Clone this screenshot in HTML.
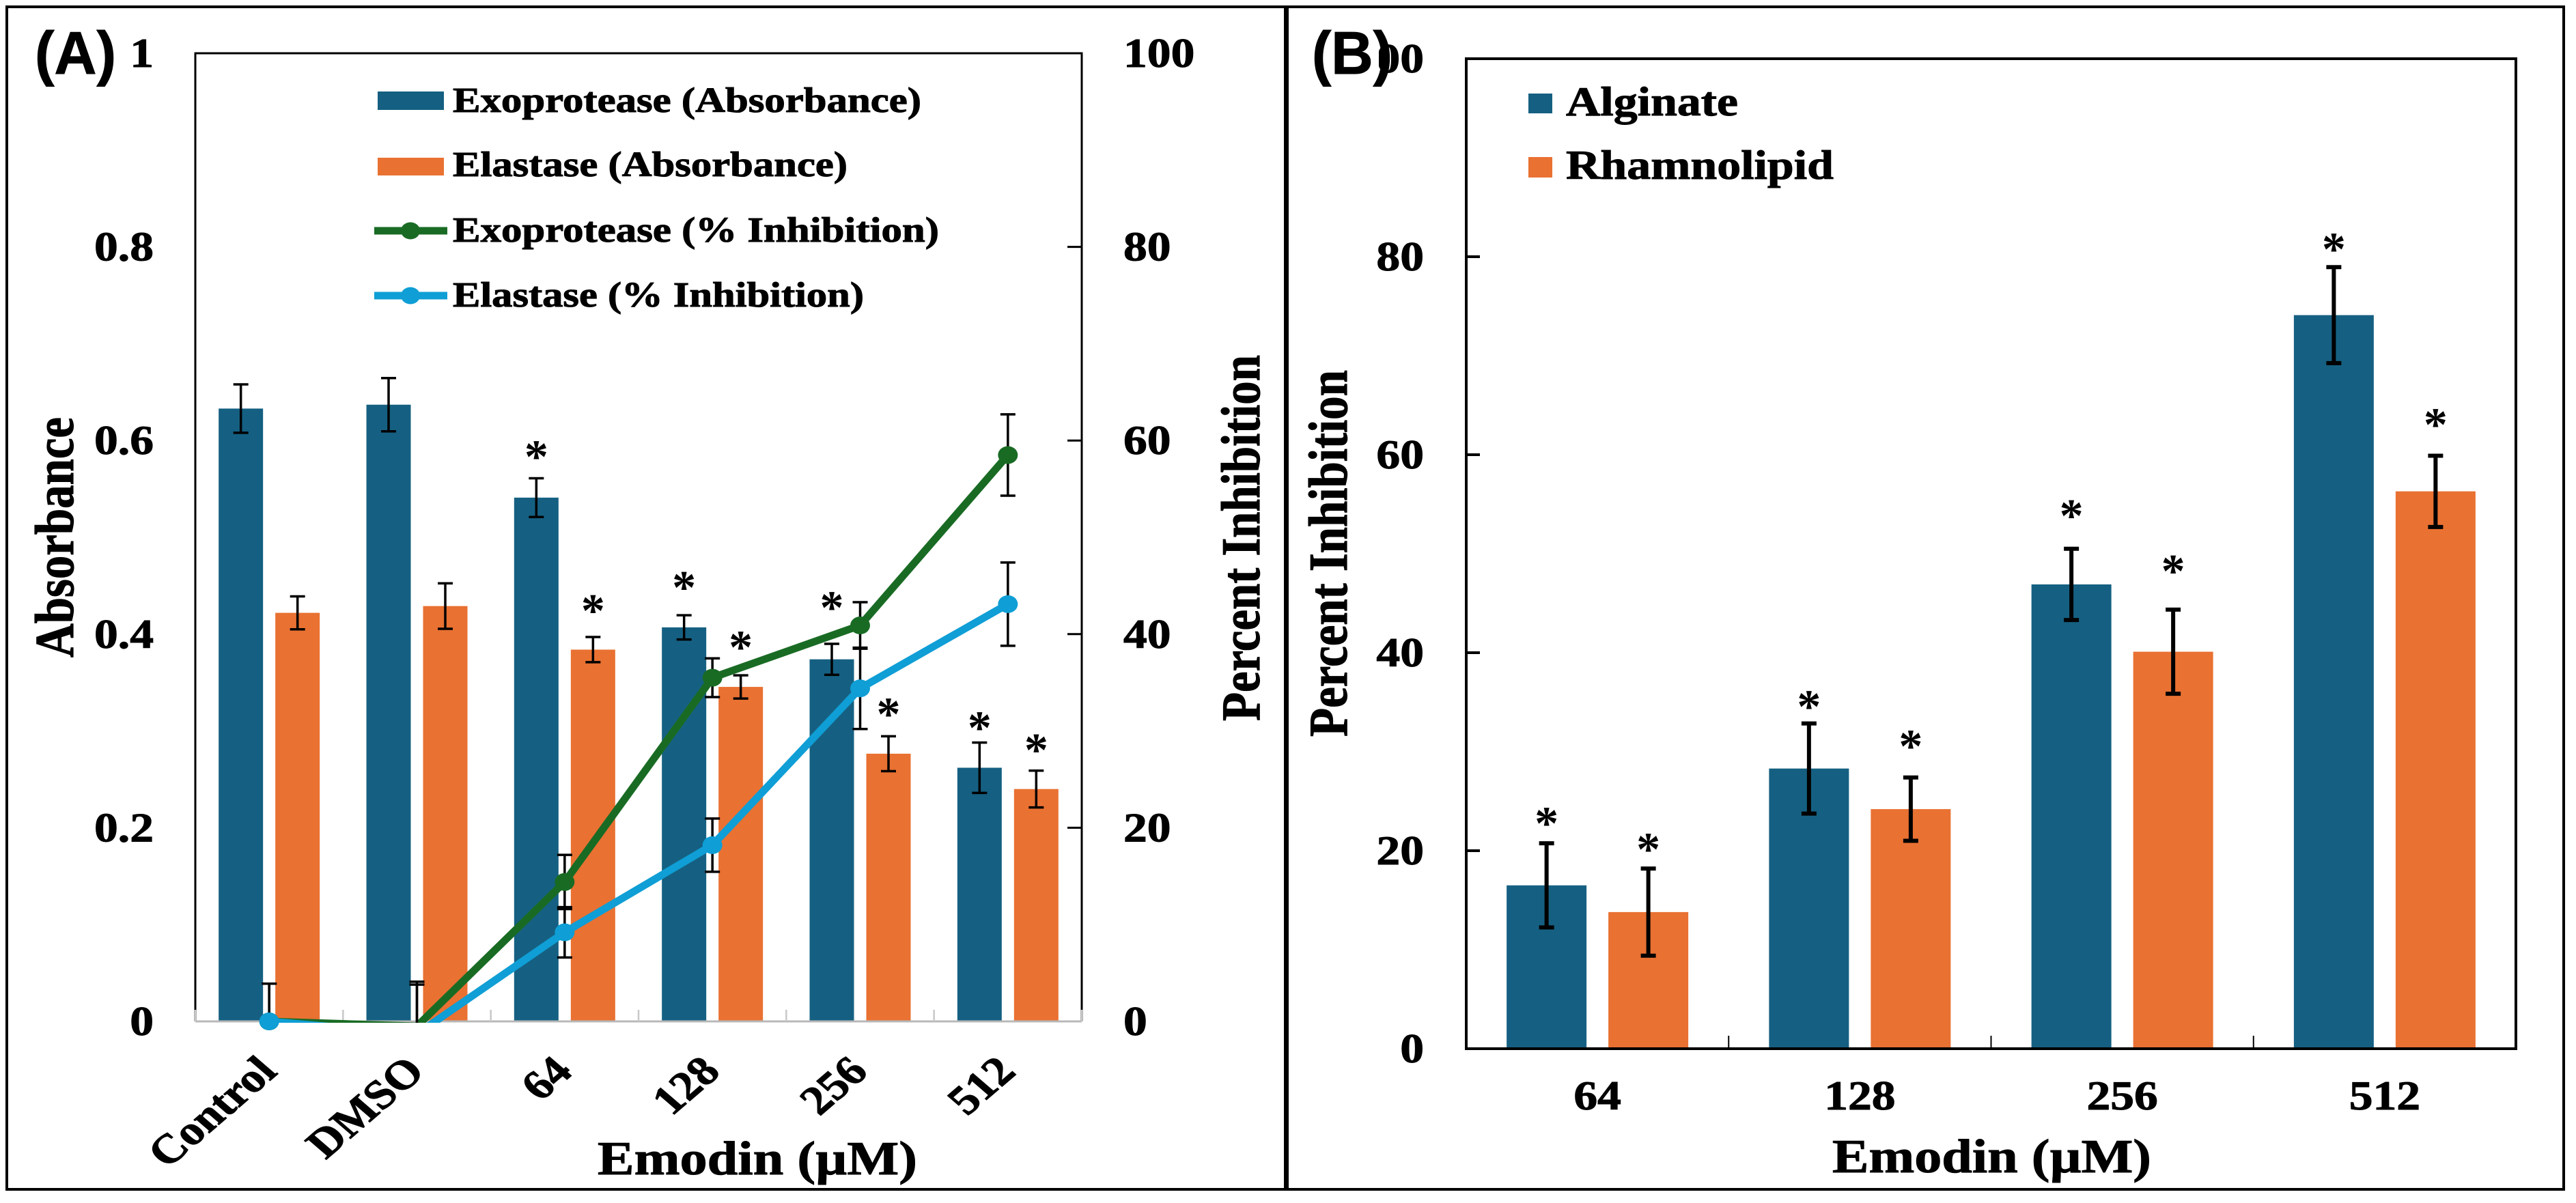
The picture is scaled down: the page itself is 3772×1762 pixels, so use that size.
<!DOCTYPE html>
<html>
<head>
<meta charset="utf-8">
<style>
html,body{margin:0;padding:0;background:#fff;}
svg{display:block;}
text{font-family:"Liberation Serif",serif;font-weight:bold;fill:#000;stroke:#000;stroke-width:1px;}
text.star{stroke:none;}
.panel-letter{font-family:"Liberation Sans",sans-serif;font-size:88px;}
</style>
</head>
<body>
<svg id="fig" xmlns="http://www.w3.org/2000/svg" width="3772" height="1762" viewBox="0 0 3772 1762">
  <defs>
    <clipPath id="clipA"><rect x="286" y="78" width="1298" height="1420"/></clipPath>
  </defs>
  <rect x="0" y="0" width="3772" height="1762" fill="#fff"/>
  <rect x="10" y="10" width="1873" height="1732" fill="none" stroke="#000" stroke-width="4"/>
  <rect x="1884" y="10" width="1870" height="1732" fill="none" stroke="#000" stroke-width="4"/>
  <rect x="1880" y="10" width="7" height="1732" fill="#000"/>

  <g id="chartA"></g>
  <g id="chartB"></g>

  <!-- Panel A static text -->
  <text class="panel-letter" x="51" y="108" textLength="119" lengthAdjust="spacingAndGlyphs">(A)</text>
  <text transform="translate(107,963) scale(1.16,1) rotate(-90)" font-size="69" textLength="352" lengthAdjust="spacingAndGlyphs">Absorbance</text>
  <text transform="translate(1844,1056) scale(1.16,1) rotate(-90)" font-size="69" textLength="536" lengthAdjust="spacingAndGlyphs">Percent Inhibition</text>
  <text x="875" y="1720" font-size="70" textLength="468" lengthAdjust="spacingAndGlyphs">Emodin (µM)</text>

  <rect x="553" y="134" width="97" height="27" fill="#156082"/>
  <text x="663" y="164" font-size="52" textLength="686" lengthAdjust="spacingAndGlyphs">Exoprotease (Absorbance)</text>
  <rect x="553" y="231" width="97" height="26" fill="#E97132"/>
  <text x="663" y="258" font-size="52" textLength="578" lengthAdjust="spacingAndGlyphs">Elastase (Absorbance)</text>
  <line x1="548" y1="338" x2="655" y2="338" stroke="#196B24" stroke-width="11"/>
  <ellipse cx="601" cy="338" rx="14" ry="12.5" fill="#196B24"/>
  <text x="663" y="354" font-size="52" textLength="712" lengthAdjust="spacingAndGlyphs">Exoprotease (% Inhibition)</text>
  <line x1="548" y1="433" x2="655" y2="433" stroke="#0F9ED5" stroke-width="11"/>
  <ellipse cx="601" cy="433" rx="14" ry="12.5" fill="#0F9ED5"/>
  <text x="663" y="449" font-size="52" textLength="602" lengthAdjust="spacingAndGlyphs">Elastase (% Inhibition)</text>

  <!-- Panel B static text -->
  <text transform="translate(1972,1079) scale(1.16,1) rotate(-90)" font-size="69" textLength="537" lengthAdjust="spacingAndGlyphs">Percent Inhibition</text>
  <text x="2683" y="1717" font-size="70" textLength="467" lengthAdjust="spacingAndGlyphs">Emodin (µM)</text>
  <rect x="2238" y="137" width="35" height="29" fill="#156082"/>
  <text x="2293" y="169" font-size="60" textLength="252" lengthAdjust="spacingAndGlyphs">Alginate</text>
  <rect x="2238" y="230" width="35" height="30" fill="#E97132"/>
  <text x="2293" y="262" font-size="60" textLength="392" lengthAdjust="spacingAndGlyphs">Rhamnolipid</text>
  <rect x="1925" y="40" width="94" height="90" fill="#fff"/>
  <text class="panel-letter" x="1921" y="108" textLength="118" lengthAdjust="spacingAndGlyphs">(B)</text>
</svg>

<script>
// ---- Panel A data ----
var categoriesA = ['Control', 'DMSO', '64', '128', '256', '512'];
var exoAbs = [0.633, 0.637, 0.541, 0.407, 0.374, 0.262];
var exoAbsErr = [0.025, 0.0275, 0.02, 0.0125, 0.016, 0.026];
var elaAbs = [0.422, 0.429, 0.384, 0.3455, 0.2765, 0.24];
var elaAbsErr = [0.017, 0.0235, 0.013, 0.012, 0.018, 0.019];
var exoInh = [0, -0.5, 14.4, 35.5, 40.9, 58.5];
var exoInhErr = [3.9, 4.3, 2.8, 2.0, 2.4, 4.2];
var elaInh = [0, -1.3, 9.2, 18.2, 34.4, 43.1];
var elaInhErr = [3.9, 5.4, 2.6, 2.75, 4.2, 4.3];
var exoStars = [null, null, 0.59, 0.455, 0.434, 0.31];
var elaStars = [null, null, 0.431, 0.393, 0.324, 0.287];
var leftTicksA = ['0', '0.2', '0.4', '0.6', '0.8', '1'];
var leftTickValsA = [0, 0.2, 0.4, 0.6, 0.8, 1];
var rightTickValsA = [0, 20, 40, 60, 80, 100];

// ---- Panel B data ----
var categoriesB = ['64', '128', '256', '512'];
var alginate = [16.5, 28.3, 46.9, 74.1];
var alginateErr = [4.25, 4.55, 3.6, 4.85];
var rhamno = [13.8, 24.2, 40.1, 56.3];
var rhamnoErr = [4.4, 3.2, 4.25, 3.6];
var alginateStars = [23.4, 35.2, 54.5, 81.4];
var rhamnoStars = [20.8, 31.2, 48.9, 63.7];
var tickValsB = [0, 20, 40, 60, 80, 100];

var NS = 'http://www.w3.org/2000/svg';
function mk(parent, tag, attrs, txt) {
  var e = document.createElementNS(NS, tag);
  for (var k in attrs) e.setAttribute(k, attrs[k]);
  if (txt !== undefined) e.textContent = txt;
  parent.appendChild(e);
  return e;
}
var STRETCH = 1.16;

// ---- Panel A axes ----
var A = {l: 286, r: 1584, t: 78, b: 1496};
function yAbs(v) { return A.b - (A.b - A.t) * v; }
function yPct(v) { return A.b - (A.b - A.t) * v / 100; }
var bandA = (A.r - A.l) / categoriesA.length;
function xCatA(i) { return A.l + bandA * (i + 0.5); }
var gA = document.getElementById('chartA');

var frameA = mk(gA, 'path', {d: 'M' + A.l + ' ' + A.b + 'V' + A.t + 'H' + A.r + 'V' + A.b, fill: 'none', stroke: '#000', 'stroke-width': 3});



function drawBarsA(vals, off, color, name) {
  vals.forEach(function (v, i) {
    var cx = xCatA(i) + off;
    var r = mk(gA, 'rect', {x: cx - 32.5, y: yAbs(v), width: 65, height: A.b - yAbs(v), fill: color});
    
    
  });
}
function drawBarErrA(vals, errs, stars, off, name) {
  vals.forEach(function (v, i) {
    var cx = xCatA(i) + off;
    var y1 = yAbs(v + errs[i]), y2 = yAbs(v - errs[i]);
    var p = mk(gA, 'path', {d: 'M' + (cx - 11) + ' ' + y1 + 'H' + (cx + 11) + 'M' + cx + ' ' + y1 + 'V' + y2 + 'M' + (cx - 11) + ' ' + y2 + 'H' + (cx + 11), stroke: '#000', 'stroke-width': 3.5, fill: 'none'});
    
    
    if (stars[i] !== null) {
      var s = mk(gA, 'text', {x: cx, y: yAbs(stars[i]) + 33, 'font-size': 70, 'text-anchor': 'middle', 'class': 'star'}, '*');
      
      
    }
  });
}
drawBarsA(exoAbs, -41.5, '#156082', 'exoprotease-absorbance');
drawBarsA(elaAbs, 41.5, '#E97132', 'elastase-absorbance');

var baseA = mk(gA, 'line', {x1: A.l, x2: A.r, y1: A.b, y2: A.b, stroke: '#b8b8b8', 'stroke-width': 3});


for (var ti = 0; ti <= categoriesA.length; ti++) {
  var tkA = mk(gA, 'line', {x1: A.l + bandA * ti, x2: A.l + bandA * ti, y1: A.b - 17, y2: A.b, stroke: '#c8c8c8', 'stroke-width': 2.5});
  
  
}
drawBarErrA(exoAbs, exoAbsErr, exoStars, -41.5, 'exoprotease-absorbance');
drawBarErrA(elaAbs, elaAbsErr, elaStars, 41.5, 'elastase-absorbance');

function drawLineA(vals, errs, color, name) {
  var g = mk(gA, 'g', {'clip-path': 'url(#clipA)'});
  
  
  vals.forEach(function (v, i) {
    var cx = xCatA(i), y1 = yPct(v + errs[i]), y2 = yPct(v - errs[i]);
    var p = mk(g, 'path', {d: 'M' + (cx - 11) + ' ' + y1 + 'H' + (cx + 11) + 'M' + cx + ' ' + y1 + 'V' + y2 + 'M' + (cx - 11) + ' ' + y2 + 'H' + (cx + 11), stroke: '#000', 'stroke-width': 3.5, fill: 'none'});
    
    
  });
  var pts = vals.map(function (v, i) { return xCatA(i) + ',' + yPct(v); }).join(' ');
  var l = mk(g, 'polyline', {points: pts, fill: 'none', stroke: color, 'stroke-width': 11, 'stroke-linejoin': 'round'});
  
  
  vals.forEach(function (v, i) {
    if (v < 0) return;
    var c = mk(gA, 'ellipse', {cx: xCatA(i), cy: yPct(v), rx: 14.5, ry: 13, fill: color});
    
    
  });
}
drawLineA(exoInh, exoInhErr, '#196B24', 'exoprotease-inhibition');
drawLineA(elaInh, elaInhErr, '#0F9ED5', 'elastase-inhibition');

leftTicksA.forEach(function (t, i) {
  var y = yAbs(leftTickValsA[i]) + 20;
  var e = mk(gA, 'text', {transform: 'translate(225,' + y + ') scale(' + STRETCH + ',1)', 'font-size': 60, 'text-anchor': 'end'}, t);
  
  
});
rightTickValsA.forEach(function (t) {
  var y = yPct(t);
  var e = mk(gA, 'text', {transform: 'translate(1645,' + (y + 20) + ') scale(' + STRETCH + ',1)', 'font-size': 60}, String(t));
  
  
  if (t > 0 && t < 100) {
    var k = mk(gA, 'line', {x1: A.r - 21, x2: A.r, y1: y, y2: y, stroke: '#000', 'stroke-width': 3});
    
    
  }
});
categoriesA.forEach(function (c, i) {
  var e = mk(gA, 'text', {transform: 'translate(' + (xCatA(i) + 14) + ',1572) scale(' + STRETCH + ',1) rotate(-45)', 'font-size': 60, 'text-anchor': 'end'}, c);
  
  
});

// ---- Panel B axes ----
var B = {l: 2147, r: 3684, t: 86, b: 1536};
function yB(v) { return B.b - (B.b - B.t) * v / 100; }
var bandB = (B.r - B.l) / categoriesB.length;
function xCatB(i) { return B.l + bandB * (i + 0.5); }
var gB = document.getElementById('chartB');

function drawBarsB(vals, errs, stars, off, color, name) {
  vals.forEach(function (v, i) {
    var cx = xCatB(i) + off;
    var r = mk(gB, 'rect', {x: cx - 58.5, y: yB(v), width: 117, height: B.b - yB(v), fill: color});
    
    
    var y1 = yB(v + errs[i]), y2 = yB(v - errs[i]);
    var p = mk(gB, 'path', {d: 'M' + (cx - 11) + ' ' + y1 + 'H' + (cx + 11) + 'M' + cx + ' ' + y1 + 'V' + y2 + 'M' + (cx - 11) + ' ' + y2 + 'H' + (cx + 11), stroke: '#000', 'stroke-width': 6, fill: 'none'});
    
    
    var s = mk(gB, 'text', {x: cx, y: yB(stars[i]) + 33, 'font-size': 70, 'text-anchor': 'middle', 'class': 'star'}, '*');
    
    
  });
}
drawBarsB(alginate, alginateErr, alginateStars, -74.5, '#156082', 'alginate');
drawBarsB(rhamno, rhamnoErr, rhamnoStars, 74.5, '#E97132', 'rhamnolipid');

var frameB = mk(gB, 'rect', {x: B.l, y: B.t, width: B.r - B.l, height: B.b - B.t, fill: 'none', stroke: '#000', 'stroke-width': 4});


for (var tj = 1; tj < categoriesB.length; tj++) {
  var tkB = mk(gB, 'line', {x1: B.l + bandB * tj, x2: B.l + bandB * tj, y1: B.b - 19, y2: B.b, stroke: '#000', 'stroke-width': 2});
  
  
}
tickValsB.forEach(function (t) {
  var y = yB(t);
  var e = mk(gB, 'text', {transform: 'translate(2085,' + (y + 20) + ') scale(' + STRETCH + ',1)', 'font-size': 60, 'text-anchor': 'end'}, String(t));
  
  
  if (t > 0 && t < 100) {
    var k = mk(gB, 'line', {x1: B.l, x2: B.l + 20, y1: y, y2: y, stroke: '#000', 'stroke-width': 4});
    
    
  }
});
categoriesB.forEach(function (c, i) {
  var e = mk(gB, 'text', {transform: 'translate(' + xCatB(i) + ',1625) scale(' + STRETCH + ',1)', 'font-size': 60, 'text-anchor': 'middle'}, c);
  
  
});
</script>
</body>
</html>
